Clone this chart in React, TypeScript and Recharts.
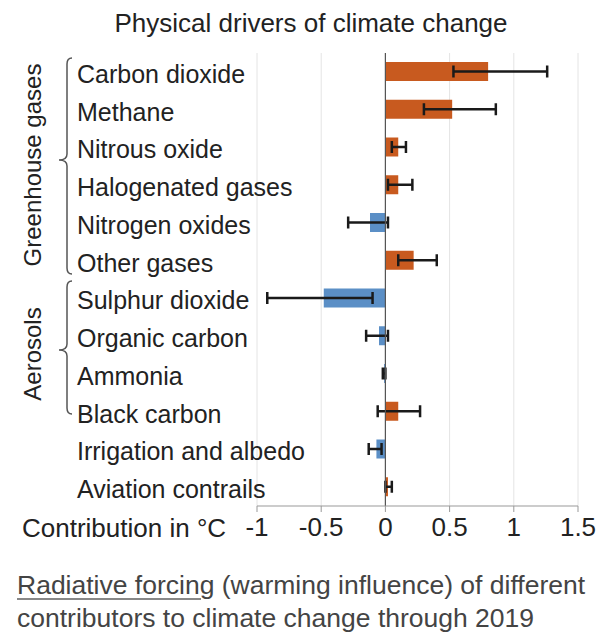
import { BarChart, Bar, XAxis, YAxis, CartesianGrid, ErrorBar, Cell, ReferenceLine } from 'recharts';

const categories = [
  'Carbon dioxide',
  'Methane',
  'Nitrous oxide',
  'Halogenated gases',
  'Nitrogen oxides',
  'Other gases',
  'Sulphur dioxide',
  'Organic carbon',
  'Ammonia',
  'Black carbon',
  'Irrigation and albedo',
  'Aviation contrails',
];

// best estimate and likely range, °C
const values = [0.8, 0.52, 0.1, 0.1, -0.12, 0.22, -0.48, -0.05, -0.01, 0.1, -0.07, 0.02];
const lows = [0.53, 0.3, 0.05, 0.02, -0.29, 0.1, -0.92, -0.15, -0.02, -0.06, -0.13, 0.0];
const highs = [1.26, 0.86, 0.16, 0.21, 0.02, 0.4, -0.1, 0.02, 0.0, 0.27, -0.03, 0.05];

const xTicks = [-1, -0.5, 0, 0.5, 1, 1.5];

const ORANGE = '#c85a1f';
const BLUE = '#5b8fc6';
const TEXT = '#222';
const FONT = '"Liberation Sans", Arial, sans-serif';

const data = categories.map((name, i) => ({
  name,
  value: values[i],
  err: [values[i] - lows[i], highs[i] - values[i]],
}));

function RowLabel({ y, payload }: any) {
  return (
    <text x={77} y={y + 11} textAnchor="start" fill={TEXT} fontSize={25} fontFamily={FONT}>
      {payload.value}
    </text>
  );
}

function brace(top: number, mid: number, bottom: number) {
  const xe = 72;
  const xv = 67;
  const xp = 59;
  return `M${xe},${top} Q${xv},${top} ${xv},${top + 6} L${xv},${mid - 6} Q${xv},${mid} ${xp},${mid} Q${xv},${mid} ${xv},${mid + 6} L${xv},${bottom - 6} Q${xv},${bottom} ${xe},${bottom}`;
}

export default function App() {
  return (
    <div
      style={{
        position: 'absolute',
        left: 0,
        top: 0,
        width: 613,
        height: 635,
        background: '#fff',
        fontFamily: FONT,
        overflow: 'hidden',
      }}
    >
      <BarChart
        width={613}
        height={545}
        data={data}
        layout="vertical"
        margin={{ top: 53, right: 35, left: 0, bottom: 0 }}
        barCategoryGap={0}
      >
        <CartesianGrid horizontal={false} stroke="#e4e4e4" />
        <XAxis
          type="number"
          domain={[-1, 1.5]}
          ticks={xTicks}
          height={39}
          tick={{ fill: TEXT, fontSize: 26, fontFamily: FONT }}
          tickSize={6}
          tickMargin={6}
          axisLine={{ stroke: '#999' }}
          tickLine={{ stroke: '#999' }}
        />
        <YAxis
          type="category"
          dataKey="name"
          width={257}
          axisLine={false}
          tickLine={false}
          tick={<RowLabel />}
          interval={0}
        />
        <Bar dataKey="value" barSize={19} isAnimationActive={false}>
          {data.map((d) => (
            <Cell key={d.name} fill={d.value >= 0 ? ORANGE : BLUE} />
          ))}
          <ErrorBar dataKey="err" direction="x" width={6} strokeWidth={2.5} stroke="#1a1a1a" />
        </Bar>
        <ReferenceLine x={0} stroke="#555" strokeWidth={1.2} />
      </BarChart>

      <svg
        width={613}
        height={635}
        style={{ position: 'absolute', left: 0, top: 0, pointerEvents: 'none' }}
      >
        <text x={311} y={32} textAnchor="middle" fill={TEXT} fontSize={26} fontFamily={FONT}>
          Physical drivers of climate change
        </text>
        <text
          transform="translate(41,165) rotate(-90)"
          textAnchor="middle"
          fill={TEXT}
          fontSize={24}
          fontFamily={FONT}
        >
          Greenhouse gases
        </text>
        <text
          transform="translate(41,354) rotate(-90)"
          textAnchor="middle"
          fill={TEXT}
          fontSize={24}
          fontFamily={FONT}
        >
          Aerosols
        </text>
        <path d={brace(58, 160, 274)} fill="none" stroke="#555" strokeWidth={1.5} />
        <path d={brace(281, 350, 414)} fill="none" stroke="#555" strokeWidth={1.5} />
        <text x={22} y={537} fill={TEXT} fontSize={26} fontFamily={FONT}>
          Contribution in °C
        </text>
      </svg>

      <div
        style={{
          position: 'absolute',
          left: 17,
          top: 569,
          fontSize: 26.5,
          lineHeight: '33px',
          color: '#444',
          whiteSpace: 'nowrap',
        }}
      >
        <span style={{ textDecoration: 'underline', textDecorationColor: '#888', textDecorationThickness: 2, textUnderlineOffset: 4 }}>
          Radiative forcing
        </span>{' '}
        (warming influence) of different
        <br />
        contributors to climate change through 2019
      </div>
    </div>
  );
}
